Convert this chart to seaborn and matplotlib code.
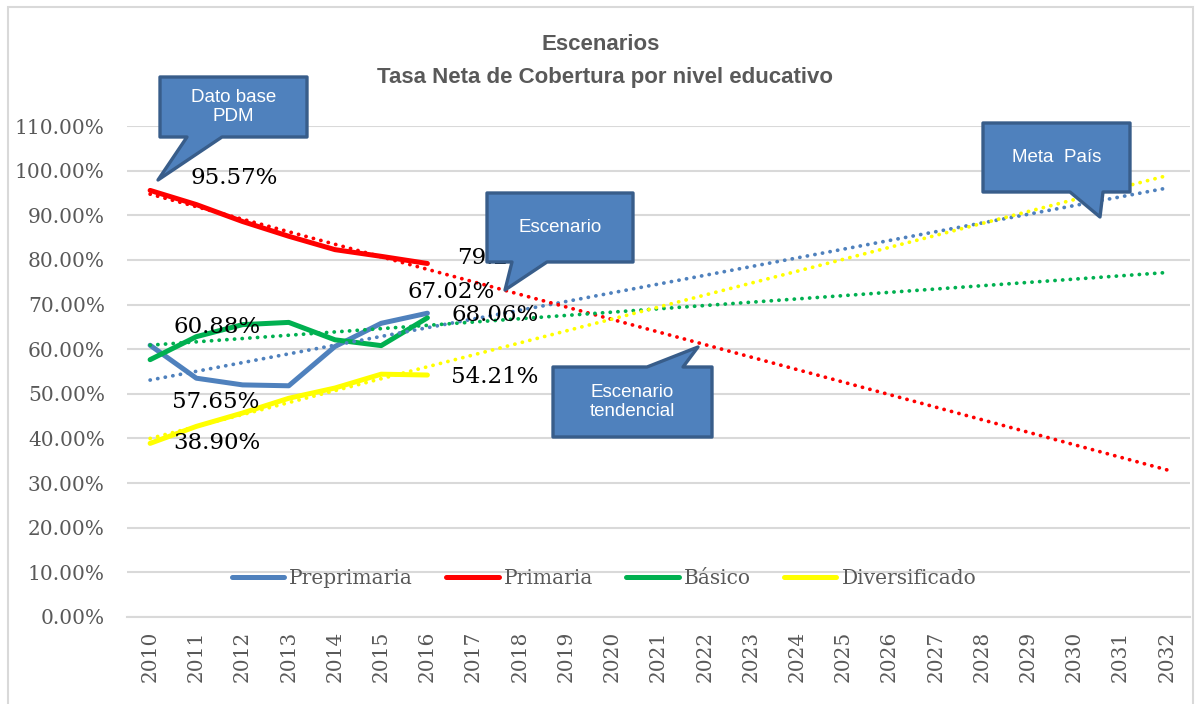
import numpy as np
import pandas as pd
import seaborn as sns
import matplotlib.pyplot as plt
from matplotlib.patches import Polygon, Rectangle
from matplotlib.ticker import FuncFormatter
from matplotlib.lines import Line2D

# Data (percent), observed 2010-2016
years = ['2010', '2011', '2012', '2013', '2014', '2015', '2016', '2017', '2018',
         '2019', '2020', '2021', '2022', '2023', '2024', '2025', '2026', '2027',
         '2028', '2029', '2030', '2031', '2032']
observed_years = ['2010', '2011', '2012', '2013', '2014', '2015', '2016']
preprimaria = [60.88, 53.5, 52.0, 51.8, 60.6, 65.8, 68.06]
primaria = [95.57, 92.4, 88.6, 85.3, 82.3, 80.8, 79.2]
basico = [57.65, 62.8, 65.5, 66.0, 62.1, 60.8, 67.02]
diversificado = [38.90, 42.7, 45.7, 49.0, 51.3, 54.4, 54.21]
series_names = ['Preprimaria', 'Primaria', 'Básico', 'Diversificado']
series_labels = {'Preprimaria': ['60.88%', '68.06%'],
                 'Primaria': ['95.57%', '79.2'],
                 'Básico': ['57.65%', '67.02%'],
                 'Diversificado': ['38.90%', '54.21%']}

colors = {'Preprimaria': '#4F81BD', 'Primaria': '#FF0000',
          'Básico': '#00B050', 'Diversificado': '#FFFF00'}
GRAY = '#595959'
GRID = '#D9D9D9'

W, H = 1195, 704


def fig_xy(x, y):
    # pixel coords (top-left origin) -> figure fraction
    return (x / W, 1 - y / H)


def main():
    sns.set_style('white')
    fig = plt.figure(figsize=(W / 100, H / 100), dpi=100)
    ax = fig.add_axes([127 / W, 1 - 617 / H, (1190 - 127) / W, (617 - 126) / H])

    values = {'Preprimaria': preprimaria, 'Primaria': primaria,
              'Básico': basico, 'Diversificado': diversificado}
    pos_obs = np.array([years.index(y) for y in observed_years])
    df = pd.concat([pd.DataFrame({'pos': pos_obs, 'valor': values[n], 'nivel': n})
                    for n in series_names], ignore_index=True)

    sns.lineplot(data=df, x='pos', y='valor', hue='nivel', palette=colors,
                 hue_order=series_names, linewidth=3.6, legend=False, ax=ax,
                 zorder=3)
    for line in ax.lines:
        line.set_solid_capstyle('round')
        line.set_solid_joinstyle('round')

    # linear trendlines extended to the full horizon
    xs = np.arange(len(years))
    for n in series_names:
        coef = np.polyfit(pos_obs, values[n], 1)
        ax.plot(xs, np.polyval(coef, xs), color=colors[n], linewidth=2.7,
                linestyle=(0, (0.05, 2.0)), dash_capstyle='round', zorder=4)

    # data labels for first / last observed point
    offsets = {'Preprimaria': [(23, 18), (24, -2)],
               'Primaria': [(40, 12), (30, 5)],
               'Básico': [(22, -42), (-20, 26)],
               'Diversificado': [(23, 0), (24, -2)]}
    for n in series_names:
        for k, idx in enumerate([0, len(pos_obs) - 1]):
            ax.annotate(series_labels[n][k], xy=(pos_obs[idx], values[n][idx]),
                        xytext=offsets[n][k], textcoords='offset pixels',
                        ha='left', va='center', fontsize=16.5,
                        family='DejaVu Serif', color='black', zorder=6)

    ax.set_xlim(-0.5, len(years) - 0.5)
    ax.set_ylim(0, 110)
    ax.set_yticks(np.arange(0, 111, 10))
    ax.yaxis.set_major_formatter(FuncFormatter(lambda v, p: f'{v:.2f}%'))
    ax.set_xticks(xs)
    ax.set_xticklabels(years, rotation=90)
    ax.tick_params(axis='y', length=0, pad=16, labelsize=14.5, labelcolor=GRAY)
    ax.tick_params(axis='x', length=0, pad=10, labelsize=14.5, labelcolor=GRAY)
    for lab in ax.get_xticklabels() + ax.get_yticklabels():
        lab.set_family('DejaVu Serif')
    ax.grid(axis='y', color=GRID, linewidth=1.5)
    ax.set_axisbelow(True)
    for s in ['left', 'top', 'right']:
        ax.spines[s].set_visible(False)
    ax.spines['bottom'].set_color(GRID)
    ax.spines['bottom'].set_linewidth(1.5)
    ax.set_xlabel('')
    ax.set_ylabel('')

    handles = [Line2D([0], [0], color=colors[n], linewidth=3.6,
                      solid_capstyle='round') for n in series_names]
    ax.legend(handles, series_names, loc='center',
              bbox_to_anchor=((604 - 127) / 1063, (617 - 579) / 491),
              ncol=4, frameon=False, handlelength=2.6, handletextpad=0.25,
              columnspacing=1.65, prop={'family': 'DejaVu Serif', 'size': 14.5},
              labelcolor=GRAY, borderpad=0, borderaxespad=0)

    # title
    fig.text(*fig_xy(601, 45), 'Escenarios', ha='center', va='center',
             fontsize=16, fontweight='bold', color=GRAY, family='Liberation Sans')
    fig.text(*fig_xy(605, 78), 'Tasa Neta de Cobertura por nivel educativo',
             ha='center', va='center', fontsize=16, fontweight='bold',
             color=GRAY, family='Liberation Sans')

    # callouts: box (x0, y0, x1, y1), tail (a, b, tip), side
    callouts = [
        ('Dato base\nPDM', (160, 77, 307, 137), (187, 222, (158, 180)), 'bottom'),
        ('Escenario', (487, 193, 633, 262), (512, 547, (505, 290)), 'bottom'),
        ('Escenario\ntendencial', (553, 367, 712, 437), (647, 683, (698, 347)), 'top'),
        ('Meta  País', (983, 123, 1130, 192), (1070, 1103, (1100, 217)), 'bottom'),
    ]
    for text, (x0, y0, x1, y1), (a, b, tip), side in callouts:
        if side == 'bottom':
            pts = [(x0, y0), (x1, y0), (x1, y1), (b, y1), tip, (a, y1), (x0, y1)]
        else:
            pts = [(x0, y0), (a, y0), tip, (b, y0), (x1, y0), (x1, y1), (x0, y1)]
        poly = Polygon([fig_xy(*p) for p in pts], closed=True,
                       transform=fig.transFigure, facecolor='#4F81BD',
                       edgecolor='#385D8A', linewidth=2.4, joinstyle='round',
                       zorder=8)
        fig.add_artist(poly)
        fig.text(*fig_xy((x0 + x1) / 2, (y0 + y1) / 2), text, ha='center',
                 va='center', fontsize=13.5, color='white',
                 family='Liberation Sans', linespacing=1.1, zorder=9)

    # outer chart border
    fig.add_artist(Rectangle(fig_xy(8, 720), (1193 - 8) / W, (720 - 7) / H,
                             transform=fig.transFigure, fill=False,
                             edgecolor=GRID, linewidth=1.5, zorder=0))

    fig.savefig('out.png', dpi=100)
    plt.close(fig)


if __name__ == '__main__':
    main()
